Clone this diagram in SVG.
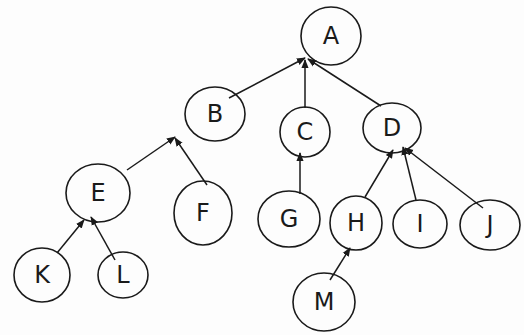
<svg xmlns="http://www.w3.org/2000/svg" width="524" height="335" viewBox="0 0 524 335">
<style>
.n ellipse{fill:none;stroke:#1a1a1a;stroke-width:1.6}
.n text{font-family:"DejaVu Sans",sans-serif;font-size:24px;fill:#1a1a1a;text-anchor:middle;dominant-baseline:central}
#edges line{stroke:#1a1a1a;stroke-width:1.5;marker-end:url(#ah)}
</style>
<defs>
<marker id="ah" viewBox="0 0 10 10" refX="9" refY="5" markerWidth="6" markerHeight="6" orient="auto">
<path d="M0,1 L10,5 L0,9 z" fill="#1a1a1a"/>
</marker>
</defs>
<rect width="524" height="335" fill="#fdfdfd"/>
<g id="edges">
<line x1="229" y1="98" x2="305" y2="58"/>
<line x1="305" y1="108" x2="305" y2="60"/>
<line x1="381" y1="106" x2="308" y2="59"/>
<line x1="127" y1="170" x2="175" y2="137"/>
<line x1="207" y1="185" x2="175" y2="138"/>
<line x1="300" y1="194" x2="300" y2="153"/>
<line x1="365" y1="197" x2="393" y2="150"/>
<line x1="416" y1="200" x2="403" y2="147"/>
<line x1="483" y1="208" x2="405" y2="148"/>
<line x1="57" y1="253" x2="84" y2="220"/>
<line x1="115" y1="260" x2="91" y2="217"/>
<line x1="330" y1="280" x2="350" y2="248"/>
</g>
<g id="A" class="n"><ellipse cx="331" cy="36" rx="30" ry="29"/><text x="331" y="36">A</text></g>
<g id="B" class="n"><ellipse cx="215" cy="114" rx="30" ry="27"/><text x="215" y="114">B</text></g>
<g id="C" class="n"><ellipse cx="305" cy="132" rx="25" ry="25"/><text x="305" y="132">C</text></g>
<g id="D" class="n"><ellipse cx="392" cy="128" rx="29" ry="25"/><text x="392" y="128">D</text></g>
<g id="E" class="n"><ellipse cx="98" cy="193" rx="32" ry="29"/><text x="98" y="193">E</text></g>
<g id="F" class="n"><ellipse cx="203" cy="213" rx="29" ry="32"/><text x="203" y="213">F</text></g>
<g id="G" class="n"><ellipse cx="289" cy="219" rx="31" ry="28"/><text x="289" y="219">G</text></g>
<g id="H" class="n"><ellipse cx="356" cy="223" rx="26" ry="27"/><text x="356" y="223">H</text></g>
<g id="I" class="n"><ellipse cx="420" cy="224" rx="27" ry="24"/><text x="420" y="224">I</text></g>
<g id="J" class="n"><ellipse cx="490" cy="225" rx="30" ry="25"/><text x="490" y="225">J</text></g>
<g id="K" class="n"><ellipse cx="42" cy="275" rx="28" ry="27"/><text x="42" y="275">K</text></g>
<g id="L" class="n"><ellipse cx="123" cy="275" rx="25" ry="23"/><text x="123" y="275">L</text></g>
<g id="M" class="n"><ellipse cx="324" cy="302" rx="31" ry="29"/><text x="324" y="302">M</text></g>
</svg>
